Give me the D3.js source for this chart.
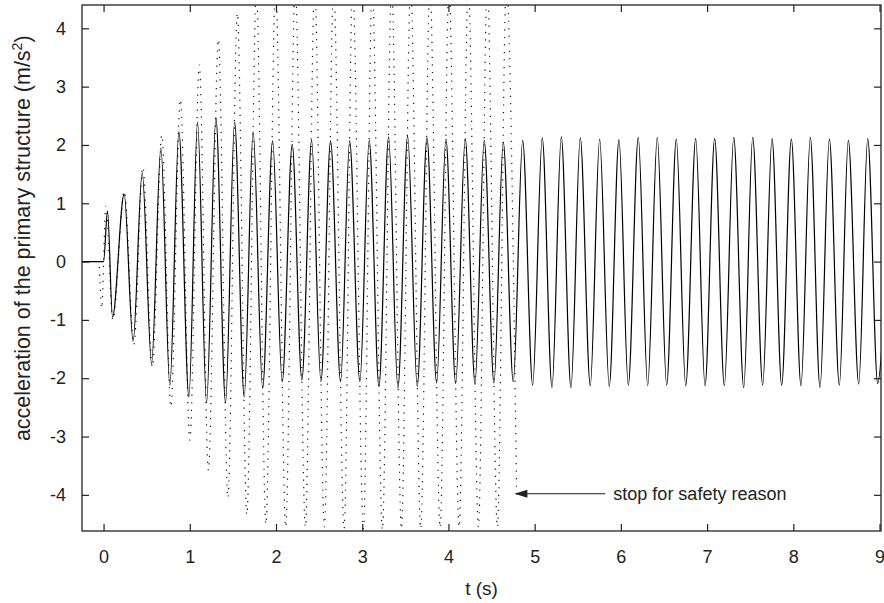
<!DOCTYPE html>
<html>
<head>
<meta charset="utf-8">
<script src="https://cdn.jsdelivr.net/npm/d3@7"></script>
<style>
  html, body { margin: 0; padding: 0; background: #fff; }
  svg { display: block; }
  text { font-family: "Liberation Sans", Arial, Helvetica, sans-serif; fill: #222; }
</style>
</head>
<body>
<svg id="chart" width="884" height="603"></svg>
<script>
// ---- data ----
const xTicks = [0, 1, 2, 3, 4, 5, 6, 7, 8, 9];
const yTicks = [-4, -3, -2, -1, 0, 1, 2, 3, 4];
const xLabel = "t (s)";
const yLabelMain = "acceleration of the primary structure (m/s";
const yLabelSup = "2";
const yLabelEnd = ")";
const annotationText = "stop for safety reason";
const arrowTip = [4.765, -3.98];
const arrowTail = [5.82, -3.98];

// solid curve: successive extrema (time in s, acceleration in m/s^2)
const solidT = [-0.25, 0.0, 0.046, 0.104, 0.239, 0.343, 0.448, 0.557, 0.665, 0.769, 0.874, 0.990,
  1.090, 1.195, 1.303, 1.415, 1.520, 1.631, 1.735, 1.845, 1.961, 2.072, 2.188, 2.300, 2.413, 2.521,
  2.633, 2.749, 2.854, 2.973, 3.081, 3.194, 3.306, 3.414, 3.527, 3.638, 3.751, 3.863, 3.971, 4.084,
  4.195, 4.308, 4.415, 4.528, 4.636, 4.752, 4.861, 4.977, 5.088, 5.201, 5.309, 5.421, 5.529, 5.645,
  5.754, 5.865, 5.978, 6.086, 6.202, 6.311, 6.422, 6.531, 6.643, 6.752, 6.868, 6.976, 7.088, 7.200,
  7.309, 7.425, 7.529, 7.645, 7.753, 7.865, 7.977, 8.089, 8.197, 8.310, 8.418, 8.534, 8.638, 8.759,
  8.863, 8.979, 9.04];
const solidV = [0, 0, 0.87, -0.95, 1.16, -1.36, 1.52, -1.75, 1.95, -2.12, 2.23, -2.32,
  2.39, -2.42, 2.47, -2.42, 2.39, -2.32, 2.23, -2.17, 2.07, -2.06, 2.01, -2.03, 2.08, -2.06,
  2.07, -2.06, 2.07, -2.06, 2.08, -2.14, 2.14, -2.17, 2.15, -2.14, 2.12, -2.08, 2.10, -2.09,
  2.11, -2.09, 2.08, -2.08, 2.05, -2.06, 2.08, -2.12, 2.12, -2.16, 2.14, -2.16, 2.12, -2.13,
  2.10, -2.14, 2.09, -2.12, 2.13, -2.13, 2.13, -2.12, 2.10, -2.13, 2.11, -2.13, 2.11, -2.13,
  2.13, -2.16, 2.13, -2.12, 2.11, -2.12, 2.10, -2.13, 2.13, -2.16, 2.10, -2.12, 2.08, -2.10,
  2.11, -2.09, -1.2];

// dotted curve: successive extrema, stops at about 4.79 s
const dottedT = [-0.25, -0.055, -0.023, 0.027, 0.108, 0.241, 0.352, 0.456, 0.566, 0.676, 0.781,
  0.891, 1.001, 1.111, 1.216, 1.332, 1.442, 1.552, 1.662, 1.773, 1.883, 1.995, 2.113, 2.223, 2.341,
  2.448, 2.561, 2.668, 2.790, 2.889, 3.014, 3.116, 3.234, 3.341, 3.455, 3.561, 3.679, 3.785, 3.904,
  4.006, 4.124, 4.230, 4.348, 4.450, 4.568, 4.671, 4.791];
const dottedV = [0, 0, -0.80, 0.95, -1.00, 1.20, -1.42, 1.62, -1.81, 2.17, -2.49,
  2.78, -3.06, 3.37, -3.58, 3.81, -4.05, 4.26, -4.34, 4.65, -4.50, 4.75, -4.55, 4.75, -4.55,
  4.75, -4.55, 4.75, -4.58, 4.75, -4.58, 4.75, -4.60, 4.75, -4.58, 4.75, -4.58, 4.75, -4.56,
  4.75, -4.55, 4.75, -4.55, 4.75, -4.55, 4.75, -4.05];

// ---- layout ----
const W = 884, H = 603;
const plot = { left: 82, right: 881, top: 5, bottom: 531 };
const FONT = '"Liberation Sans", Arial, Helvetica, sans-serif';

const svg = d3.select("#chart");
svg.append("rect").attr("width", W).attr("height", H).attr("fill", "#fff");

const x = d3.scaleLinear().domain([-0.25, 9.017]).range([plot.left, plot.right]);
const y = d3.scaleLinear().domain([-4.62, 4.40]).range([plot.bottom, plot.top]);

svg.append("defs").append("clipPath").attr("id", "clip")
  .append("rect")
  .attr("x", plot.left).attr("y", plot.top)
  .attr("width", plot.right - plot.left).attr("height", plot.bottom - plot.top);

const line = d3.line()
  .x(d => x(d[0]))
  .y(d => y(d[1]))
  .curve(d3.curveMonotoneX);

const g = svg.append("g").attr("clip-path", "url(#clip)");

g.append("path")
  .datum(dottedT.map((t, i) => [t, dottedV[i]]))
  .attr("d", line)
  .attr("fill", "none")
  .attr("stroke", "#111")
  .attr("stroke-width", 1.2)
  .attr("stroke-dasharray", "1.2 6.3");

g.append("path")
  .datum(solidT.map((t, i) => [t, solidV[i]]))
  .attr("d", line)
  .attr("fill", "none")
  .attr("stroke", "#000")
  .attr("stroke-width", 1.2);

// ---- axes (gnuplot style: inward ticks on all four sides) ----
const fontSize = 18;
const fmt = d => String(d);  // plain hyphen minus like the reference
const axisStyle = sel => {
  sel.select(".domain").remove();
  sel.selectAll(".tick line").attr("stroke", "#222").attr("stroke-width", 1.2);
  sel.selectAll(".tick text").attr("font-size", fontSize).attr("fill", "#222")
    .attr("font-family", FONT);
};

svg.append("g").attr("transform", `translate(0,${plot.bottom})`)
  .call(d3.axisBottom(x).tickValues(xTicks).tickFormat(fmt).tickSize(-7).tickPadding(19))
  .call(axisStyle);
svg.append("g").attr("transform", `translate(0,${plot.top})`)
  .call(d3.axisTop(x).tickValues(xTicks).tickFormat("").tickSize(-7))
  .call(axisStyle);
svg.append("g").attr("transform", `translate(${plot.left},0)`)
  .call(d3.axisLeft(y).tickValues(yTicks).tickFormat(fmt).tickSize(-7).tickPadding(16))
  .call(axisStyle);
svg.append("g").attr("transform", `translate(${plot.right},0)`)
  .call(d3.axisRight(y).tickValues(yTicks).tickFormat("").tickSize(-7))
  .call(axisStyle);

// frame
svg.append("rect")
  .attr("x", plot.left).attr("y", plot.top)
  .attr("width", plot.right - plot.left).attr("height", plot.bottom - plot.top)
  .attr("fill", "none").attr("stroke", "#222").attr("stroke-width", 1.3);

// axis titles
svg.append("text")
  .attr("x", (plot.left + plot.right) / 2).attr("y", 595)
  .attr("text-anchor", "middle").attr("font-size", 19)
  .text(xLabel);

const yl = svg.append("text")
  .attr("transform", `translate(30,${y(0.4)}) rotate(-90)`)
  .attr("text-anchor", "middle").attr("font-size", 21.5);
yl.append("tspan").text(yLabelMain);
yl.append("tspan").attr("font-size", 14).attr("dy", -8).text(yLabelSup);
yl.append("tspan").attr("dy", 8).text(yLabelEnd);

// annotation arrow
const ax1 = x(arrowTail[0]), ay = y(arrowTail[1]), ax0 = x(arrowTip[0]);
svg.append("line")
  .attr("x1", ax1).attr("y1", ay).attr("x2", ax0 + 10).attr("y2", ay)
  .attr("stroke", "#222").attr("stroke-width", 1.1);
svg.append("path")
  .attr("d", `M${ax0},${ay} L${ax0 + 13},${ay - 4} L${ax0 + 13},${ay + 4} Z`)
  .attr("fill", "#222");
svg.append("text")
  .attr("x", ax1 + 8).attr("y", ay).attr("dy", "0.35em")
  .attr("font-size", 18)
  .text(annotationText);
</script>
</body>
</html>
